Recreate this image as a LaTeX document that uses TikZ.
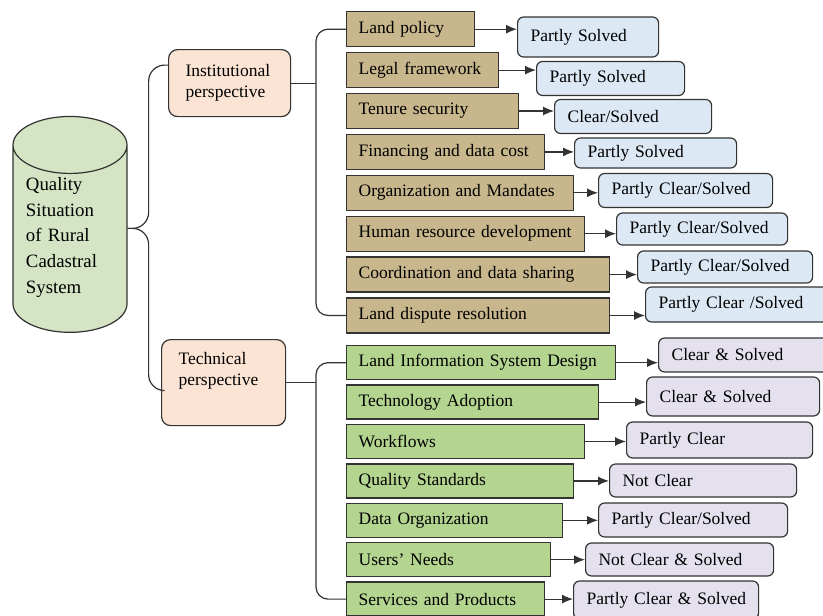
\documentclass[tikz,border=0pt]{standalone}
\usepackage{fontspec}
\setmainfont{Liberation Serif}
\usepackage{xcolor}
\definecolor{instbrown}{HTML}{C8B78C}
\definecolor{techgreen}{HTML}{B4D590}
\definecolor{resblue}{HTML}{DCE8F4}
\definecolor{reslilac}{HTML}{E5E0EE}
\definecolor{perspeach}{HTML}{FBE4D3}
\definecolor{cylgreen}{HTML}{D5E4C4}
\definecolor{edgegray}{HTML}{333333}
\usepackage{tikz}
\usetikzlibrary{positioning, arrows.meta, shapes.geometric, calc}

\begin{document}
\begin{tikzpicture}[x=1pt, y=-1pt,
  every node/.style={font=\fontsize{17.5}{21}\selectfont, text=black},
  oneline/.style={execute at begin node=\hbox\bgroup, execute at end node=\egroup},
  item/.style={draw=edgegray, line width=1.4pt, minimum height=35pt, inner xsep=12pt,
               inner ysep=0pt, align=left, anchor=north west, text width=#1, oneline},
  res/.style={draw=edgegray, line width=1.2pt, rounded corners=6pt, minimum height=34pt,
              inner xsep=13pt, inner ysep=0pt, align=left, anchor=west, text width=#1, oneline},
  persp/.style={draw=edgegray, line width=1.2pt, rounded corners=9pt, fill=perspeach,
                align=left, anchor=north west, inner xsep=17pt},
  link/.style={draw=edgegray, line width=1.2pt},
  arr/.style={link, -{Latex[length=11pt, width=9pt]}}]
  \useasboundingbox (0,0) rectangle (823,616);

  % root cylinder
  \node[cylinder, shape border rotate=90, aspect=0.5, draw=edgegray, line width=1.2pt,
        fill=cylgreen, minimum width=114pt, minimum height=208pt, inner xsep=13pt,
        text width=88pt, align=left, font=\fontsize{18.8}{25.7}\selectfont] (cyl) at (70,248)
        {Quality\\Situation\\of Rural\\Cadastral\\System\\[-8pt]\strut};

  % perspectives
  \node[persp, text width=88pt, minimum height=67pt] (inst) at (168,49)
        {Institutional\\perspective};
  \node[persp, text width=90pt, minimum height=86pt] (tech) at (161,339)
        {Technical\\perspective\\\strut};

  \coordinate (root) at ([yshift=-4pt]cyl.shape center -| cyl.east);
  \draw[link, rounded corners=16pt] (root) -- ++(21,0) |- ([yshift=18pt]inst.west);
  \draw[link, rounded corners=16pt] (root) -- ++(21,0) |- ([yshift=-8pt]tech.west);

  % institutional issues
  \node[item=104pt, fill=instbrown] (lp) at (346,11) {Land policy};
  \node[below=4.5pt of lp.south west, item=128pt, fill=instbrown] (lf) {Legal framework};
  \node[below=4.5pt of lf.south west, item=148pt, fill=instbrown] (ts) {Tenure security};
  \node[below=4.5pt of ts.south west, item=174pt, fill=instbrown] (fdc) {Financing and data cost};
  \node[below=4.5pt of fdc.south west, item=203pt, fill=instbrown] (om) {Organization and Mandates};
  \node[below=4.5pt of om.south west, item=214pt, fill=instbrown] (hrd) {Human resource development};
  \node[below=4.5pt of hrd.south west, item=239pt, fill=instbrown] (cds) {Coordination and data sharing};
  \node[below=4.5pt of cds.south west, item=239pt, fill=instbrown] (ldr) {Land dispute resolution};

  \coordinate (ibus) at ([xshift=-30pt]lp.west);
  \draw[link] (inst.east) -- (inst.east -| ibus);
  \draw[link, rounded corners=12pt] (lp.west) -- (ibus) |- (ldr.west);

  % institutional status
  \node[res=115pt, fill=resblue, minimum height=40pt] (ir1) at (517,37) {Partly Solved};
  \node[res=122pt, fill=resblue] (ir2) at (536,78.5) {Partly Solved};
  \node[res=131pt, fill=resblue] (ir3) at (554,116.5) {Clear/Solved};
  \node[res=136pt, fill=resblue, minimum height=30pt] (ir4) at (574,153) {Partly Solved};
  \node[res=148pt, fill=resblue] (ir5) at (598,190.5) {Partly Clear/Solved};
  \node[res=145pt, fill=resblue, minimum height=32pt] (ir6) at (616,229) {Partly Clear/Solved};
  \node[res=149pt, fill=resblue, minimum height=32pt] (ir7) at (637,267) {Partly Clear/Solved};
  \node[res=164pt, fill=resblue, minimum height=35pt] (ir8) at (645,304.5) {Partly Clear /Solved};

  \draw[arr] (lp.east) -- (lp.east -| ir1.west);
  \draw[arr] (lf.east) -- (lf.east -| ir2.west);
  \draw[arr] (ts.east) -- (ts.east -| ir3.west);
  \draw[arr] (fdc.east) -- (fdc.east -| ir4.west);
  \draw[arr] (om.east) -- (om.east -| ir5.west);
  \draw[arr] (hrd.east) -- (hrd.east -| ir6.west);
  \draw[arr] (cds.east) -- (cds.east -| ir7.west);
  \draw[arr] (ldr.east) -- (ldr.east -| ir8.west);

  % technical issues
  \node[item=245pt, fill=techgreen, minimum height=34pt] (lis) at (346,345) {Land Information System Design};
  \node[below=4pt of lis.south west, item=228pt, fill=techgreen, minimum height=34pt] (ta) {Technology Adoption};
  \node[below=4pt of ta.south west, item=214pt, fill=techgreen, minimum height=34pt] (wf) {Workflows};
  \node[below=4pt of wf.south west, item=203pt, fill=techgreen, minimum height=34pt] (qs) {Quality Standards};
  \node[below=4pt of qs.south west, item=192pt, fill=techgreen, minimum height=34pt] (dor) {Data Organization};
  \node[below=4pt of dor.south west, item=180pt, fill=techgreen, minimum height=34pt] (un) {Users' Needs};
  \node[below=4pt of un.south west, item=174pt, fill=techgreen, minimum height=34pt] (sp) {Services and Products};

  \coordinate (tbus) at ([xshift=-30pt]lis.west);
  \draw[link] (tech.east) -- (tech.east -| tbus);
  \draw[link, rounded corners=12pt] (lis.west) -- (tbus) |- (sp.west);

  % technical status
  \node[res=154pt, fill=reslilac] (tr1) at (658,355) {Clear \& Solved};
  \node[res=147pt, fill=reslilac, minimum height=39pt] (tr2) at (646,396.5) {Clear \& Solved};
  \node[res=160pt, fill=reslilac, minimum height=36pt] (tr3) at (626,440) {Partly Clear};
  \node[res=161pt, fill=reslilac, minimum height=33pt] (tr4) at (609,480.5) {Not Clear};
  \node[res=163pt, fill=reslilac] (tr5) at (598,520) {Partly Clear/Solved};
  \node[res=162pt, fill=reslilac, minimum height=33pt] (tr6) at (585,559.5) {Not Clear \& Solved};
  \node[res=159pt, fill=reslilac, minimum height=38pt] (tr7) at (573,600) {Partly Clear \& Solved};

  \draw[arr] (lis.east) -- (lis.east -| tr1.west);
  \draw[arr] (ta.east) -- (ta.east -| tr2.west);
  \draw[arr] (wf.east) -- (wf.east -| tr3.west);
  \draw[arr] (qs.east) -- (qs.east -| tr4.west);
  \draw[arr] (dor.east) -- (dor.east -| tr5.west);
  \draw[arr] (un.east) -- (un.east -| tr6.west);
  \draw[arr] (sp.east) -- (sp.east -| tr7.west);
\end{tikzpicture}
\end{document}
